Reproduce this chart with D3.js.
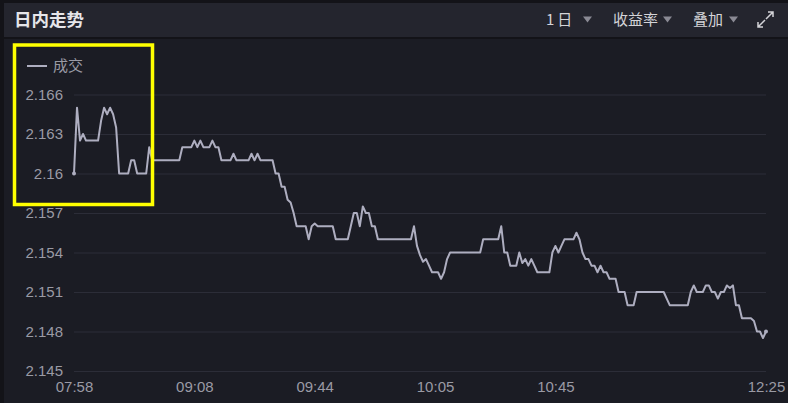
<!DOCTYPE html>
<html><head><meta charset="utf-8">
<script src="https://cdn.jsdelivr.net/npm/d3@7"></script>
<style>
html,body{margin:0;padding:0;background:#1b1c24;}
svg{display:block;}
text{font-family:"Liberation Sans","Noto Sans CJK SC",sans-serif;}
</style></head>
<body><svg id="c" width="788" height="403"></svg>
<script>
const title = "日内走势";
const seriesName = "成交";
const menuItems = ["1日", "收益率", "叠加"];
const xTickIndex = [0, 40, 80, 120, 160, 230];
const xTickLabels = ["07:58", "09:08", "09:44", "10:05", "10:45", "12:25"];
const yTicks = [2.145, 2.148, 2.151, 2.154, 2.157, 2.160, 2.163, 2.166];
const prices = [
2.160,2.165,2.1625,2.163,2.1625,2.1625,2.1625,2.1625,2.1625,2.164,
2.165,2.1645,2.165,2.1645,2.1635,2.160,2.160,2.160,2.160,2.161,
2.161,2.160,2.160,2.160,2.160,2.162,2.161,2.161,2.161,2.161,
2.161,2.161,2.161,2.161,2.161,2.161,2.162,2.162,2.162,2.162,
2.1625,2.162,2.1625,2.162,2.162,2.162,2.1625,2.162,2.162,2.161,
2.161,2.161,2.161,2.1615,2.161,2.161,2.161,2.161,2.161,2.1615,
2.161,2.1615,2.161,2.161,2.161,2.161,2.161,2.160,2.160,2.159,
2.159,2.158,2.1578,2.157,2.156,2.156,2.156,2.156,2.155,2.156,
2.1562,2.156,2.156,2.156,2.156,2.156,2.156,2.155,2.155,2.155,
2.155,2.155,2.156,2.157,2.157,2.156,2.1575,2.157,2.157,2.156,
2.156,2.155,2.155,2.155,2.155,2.155,2.155,2.155,2.155,2.155,
2.155,2.155,2.155,2.156,2.1545,2.1538,2.1533,2.1535,2.153,2.1525,
2.1525,2.1525,2.152,2.1525,2.1535,2.154,2.154,2.154,2.154,2.154,
2.154,2.154,2.154,2.154,2.154,2.154,2.155,2.155,2.155,2.155,
2.155,2.155,2.156,2.154,2.154,2.153,2.153,2.153,2.154,2.1532,
2.1535,2.153,2.1535,2.153,2.1525,2.1525,2.1525,2.1525,2.1525,2.154,
2.1545,2.154,2.1545,2.155,2.155,2.155,2.155,2.1555,2.155,2.154,
2.1535,2.1535,2.153,2.153,2.1525,2.153,2.1525,2.1525,2.152,2.152,
2.152,2.151,2.151,2.151,2.150,2.150,2.150,2.151,2.151,2.151,
2.151,2.151,2.151,2.151,2.151,2.151,2.151,2.1505,2.150,2.150,
2.150,2.150,2.150,2.150,2.150,2.151,2.1515,2.151,2.151,2.151,
2.1515,2.1515,2.151,2.151,2.1505,2.151,2.151,2.1515,2.1513,2.1515,
2.150,2.150,2.149,2.149,2.149,2.149,2.1488,2.148,2.148,2.1475,
2.148
];

const svg = d3.select("#c");
const W = 788, H = 403;
const lineColor = "#aeaec0", textColor = "#9a9aa4", gridColor = "#2c2d38";

// frame & header
svg.append("rect").attr("x",0).attr("y",0).attr("width",W).attr("height",H).attr("fill","#1b1c24");
svg.append("rect").attr("x",0).attr("y",0).attr("width",4).attr("height",H).attr("fill","#131318");
svg.append("rect").attr("x",0).attr("y",0).attr("width",W).attr("height",3).attr("fill","#131318");
svg.append("rect").attr("x",4).attr("y",3).attr("width",W-4).attr("height",34).attr("fill","#24252e");
svg.append("rect").attr("x",4).attr("y",37).attr("width",W-4).attr("height",2).attr("fill","#131318");
svg.append("text").attr("x",14).attr("y",26).attr("fill","#e6e6ea").attr("font-size",17.5).attr("font-weight","bold")
  .style("font-family","'Noto Sans CJK SC',sans-serif").text(title);

const menuX = [546, 613, 693];
const triX = [583, 663, 729];
menuItems.forEach((m,i)=>{
  svg.append("text").attr("x",menuX[i]).attr("y",25).attr("fill","#d4d4d8").attr("font-size",15)
    .attr("letter-spacing", i===0 ? 3 : 0)
    .style("font-family","'Noto Sans CJK SC',sans-serif").text(m);
  const tx = triX[i];
  svg.append("path").attr("d",`M${tx},16.5 L${tx+9},16.5 L${tx+4.5},22.5 Z`).attr("fill","#8a8a94");
});
// expand icon
const ic = svg.append("g").attr("stroke","#d4d4d8").attr("stroke-width",1.5).attr("fill","none");
ic.append("path").attr("d","M758,27 L765,20 M758,22 L758,27 L763,27");
ic.append("path").attr("d","M766,19 L773,12 M768,12 L773,12 L773,17");

// scales
const x = d3.scaleLinear().domain([0, prices.length-1]).range([74, 766]);
const y = d3.scaleLinear().domain([2.145, 2.166]).range([371, 94.5]);

// grid
const grid = svg.append("g").attr("transform","translate(74,0)")
  .call(d3.axisLeft(y).tickValues(yTicks).tickSize(-692).tickFormat(""));
grid.select(".domain").remove();
grid.selectAll("line").attr("stroke",gridColor).attr("stroke-width",1);

// y labels
const ya = svg.append("g").attr("transform","translate(74,0)")
  .call(d3.axisLeft(y).tickValues(yTicks).tickSize(0).tickPadding(11).tickFormat(d=>String(+d.toFixed(3))));
ya.select(".domain").remove();
ya.selectAll("text").attr("fill",textColor).attr("font-size",15).style("font-family","'Liberation Sans',sans-serif");

// x labels
const xa = svg.append("g").attr("transform","translate(0,371)")
  .call(d3.axisBottom(x).tickValues(xTickIndex).tickSize(0).tickPadding(10).tickFormat((d,i)=>xTickLabels[i]));
xa.select(".domain").remove();
xa.selectAll("text").attr("fill",textColor).attr("font-size",15).style("font-family","'Liberation Sans',sans-serif");

// line
const line = d3.line().x((d,i)=>x(i)).y(d=>y(d));
svg.append("path").datum(prices).attr("d",line).attr("fill","none").attr("stroke",lineColor)
  .attr("stroke-width",2).attr("stroke-linejoin","round");
[0, prices.length-1].forEach(i=>{
  svg.append("circle").attr("cx",x(i)).attr("cy",y(prices[i])).attr("r",2).attr("fill",lineColor);
});

// legend
svg.append("line").attr("x1",27).attr("x2",47).attr("y1",66).attr("y2",66).attr("stroke",lineColor).attr("stroke-width",2);
svg.append("text").attr("x",53).attr("y",71).attr("fill",textColor).attr("font-size",15)
  .style("font-family","'Noto Sans CJK SC',sans-serif").text(seriesName);

// highlight box
svg.append("rect").attr("x",14.5).attr("y",45).attr("width",138).attr("height",159.5)
  .attr("fill","none").attr("stroke","#ffff00").attr("stroke-width",3.5);
</script></body></html>
